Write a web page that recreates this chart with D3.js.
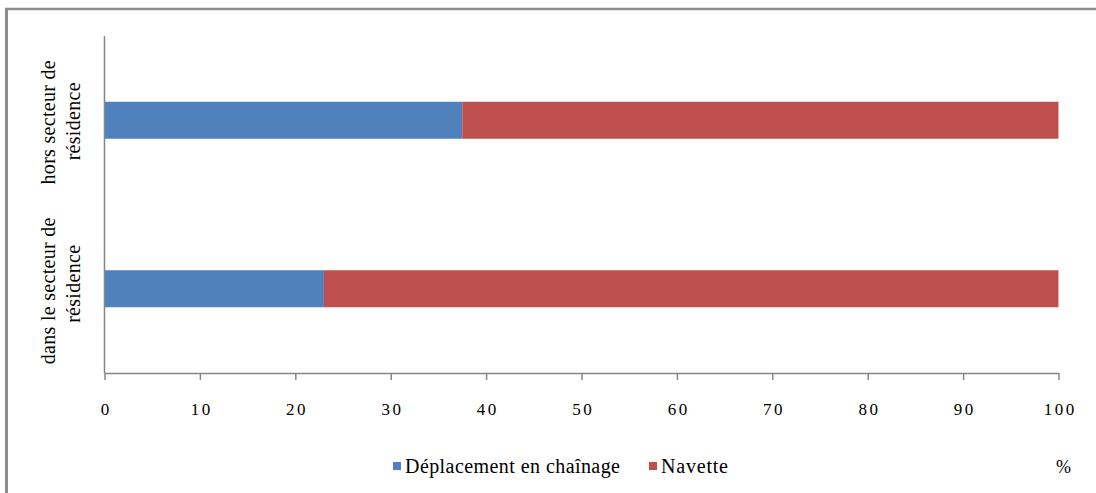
<!DOCTYPE html>
<html><head><meta charset="utf-8">
<script src="https://cdn.jsdelivr.net/npm/d3@7"></script>
<style>
html,body{margin:0;padding:0;background:#fff;}
svg{display:block;}
text{font-family:"Liberation Serif","Times New Roman",serif;fill:#000;}
</style></head>
<body>
<svg id="chart" width="1096" height="493"></svg>
<script>
const categories = ["dans le secteur de résidence", "hors secteur de résidence"];
const categoryLines = [["dans le secteur de", "résidence"], ["hors secteur de", "résidence"]];
const seriesNames = ["Déplacement en chaînage", "Navette"];
const chainage = [23, 37.5];
const navette = [77, 62.5];
const xTicks = [0, 10, 20, 30, 40, 50, 60, 70, 80, 90, 100];
const colors = ["#4f81bd", "#c0504d"];
const unitLabel = "%";

(function () {
const svg = d3.select("#chart");
const mLeft = 104.5, mRight = 1058.5, mTop = 36, mBottom = 373;

// frame
svg.append("line").attr("x1", 5).attr("x2", 1096).attr("y1", 9).attr("y2", 9)
  .attr("stroke", "#8c8c8c").attr("stroke-width", 2.5);
svg.append("line").attr("x1", 6.5).attr("x2", 6.5).attr("y1", 8).attr("y2", 493)
  .attr("stroke", "#8c8c8c").attr("stroke-width", 3);

const x = d3.scaleLinear().domain([0, 100]).range([mLeft, mRight]);
const y = d3.scaleBand().domain(categories.slice().reverse()).range([mTop, mBottom]).padding(0);

// stacks
const data = categories.map((c, i) => ({cat: c, a: chainage[i], b: navette[i]}));
const stack = d3.stack().keys(["a", "b"])(data);
const barH = 37;
svg.append("g").selectAll("g").data(stack).join("g")
  .attr("fill", (d, i) => colors[i])
  .selectAll("rect").data(d => d).join("rect")
  .attr("x", d => x(d[0]))
  .attr("width", d => x(d[1]) - x(d[0]))
  .attr("y", d => y(d.data.cat) + y.bandwidth() / 2 - barH / 2)
  .attr("height", barH);

// x axis
const xa = svg.append("g").attr("transform", `translate(0,${mBottom})`)
  .call(d3.axisBottom(x).tickValues(xTicks).tickSize(7).tickSizeOuter(0).tickPadding(23).tickFormat(d3.format("d")));
xa.select(".domain").attr("stroke", "#868686").attr("stroke-width", 1.5);
xa.selectAll(".tick line").attr("stroke", "#868686").attr("stroke-width", 1.5);
xa.selectAll(".tick text").attr("font-size", 17).attr("font-family", "Liberation Serif, serif")
  .attr("fill", "#000").attr("letter-spacing", 2.5).attr("dx", 1.25);

// y axis
const ya = svg.append("g").attr("transform", `translate(${mLeft},0)`)
  .call(d3.axisLeft(y).tickSize(0).tickFormat(""));
ya.select(".domain").attr("stroke", "#868686").attr("stroke-width", 1.5)
  .attr("d", `M0,${mTop}V${mBottom}`);

// y category labels (rotated)
categories.forEach((c, i) => {
  const cy = y(c) + y.bandwidth() / 2;
  const g = svg.append("g").attr("transform", `translate(0,${cy}) rotate(-90)`);
  const lines = categoryLines[i];
  g.append("text").attr("x", i === 0 ? -2 : -2).attr("y", 55).attr("text-anchor", "middle")
    .attr("font-size", 20).attr("letter-spacing", 0.3)
    .text(lines[0]);
  g.append("text").attr("x", i === 0 ? 5 : -1).attr("y", 80).attr("text-anchor", "middle")
    .attr("font-size", 20).attr("letter-spacing", 0.3)
    .text(lines[1]);
});

// legend
const legend = svg.append("g");
const legendX = [393, 649];
const legendW = [215, 67];
seriesNames.forEach((n, i) => {
  legend.append("rect").attr("x", legendX[i]).attr("y", 462).attr("width", 8).attr("height", 8).attr("fill", colors[i]);
  legend.append("text").attr("x", legendX[i] + 12).attr("y", 473).attr("font-size", 20)
    .attr("textLength", legendW[i]).attr("lengthAdjust", "spacing").text(n);
});
svg.append("text").attr("x", 1056).attr("y", 473).attr("font-size", 18).text(unitLabel);
})();
</script>
</body></html>
